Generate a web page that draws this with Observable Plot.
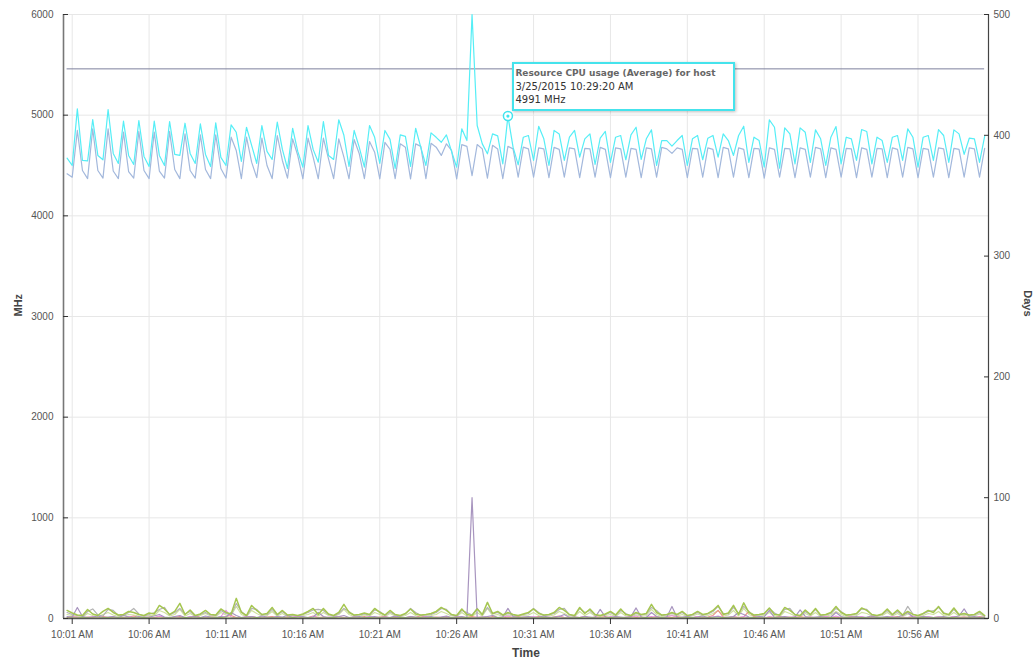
<!DOCTYPE html>
<html><head><meta charset="utf-8">
<script src="https://cdn.jsdelivr.net/npm/d3@7"></script>
<script src="https://cdn.jsdelivr.net/npm/@observablehq/plot@0.6"></script>
<style>
html,body{margin:0;padding:0;background:#fff;}
#wrap{position:relative;width:1034px;height:662px;overflow:hidden;}
#tip{position:absolute;box-sizing:border-box;width:223px;height:49px;background:#fff;border:2px solid #45e3ec;box-shadow:1px 1px 3px rgba(0,0,0,0.25);font-family:"DejaVu Sans",Verdana,sans-serif;padding:3px 0 0 1px;line-height:13px;}
#tip .t{font-size:9px;font-weight:bold;color:#666;}
#tip .l{font-size:10px;color:#333;}
</style></head><body><div id="wrap"></div>
<script>
// ---- data (20-second samples from 10:00:40 to 11:00:20) ----
const startTime = "2015-03-25 10:00:40";
const stepSeconds = 20;
const xTickLabels = ["10:01 AM","10:06 AM","10:11 AM","10:16 AM","10:21 AM","10:26 AM","10:31 AM","10:36 AM","10:41 AM","10:46 AM","10:51 AM","10:56 AM"];
const mhzTicks = [0,1000,2000,3000,4000,5000,6000];
const dayTicks = [0,100,200,300,400,500];
const capacityMHz = 5460;
const tooltipTitle = "Resource CPU usage (Average) for host";
const tooltipTime = "3/25/2015 10:29:20 AM";
const tooltipValue = 4991;

const cpuCyan = [
4573,
4500,5063,4550, 4545,4957,4600, 4557,5056,4620, 4520,4940,4600, 4510,4947,4590,
4490,4940,4600, 4500,4937,4610, 4600,4920,4620, 4520,4914,4610, 4490,4924,4580,
4500,4904,4830, 4540,4880,4700, 4520,4897,4640, 4560,4930,4660, 4470,4870,4640,
4483,4897,4660, 4533,4937,4600, 4560,4954,4800, 4490,4848,4680, 4483,4897,4780,
4520,4848,4760, 4470,4804,4790, 4490,4870,4680, 4500,4824,4780, 4731,4804,4640,
4483,4864,4748, 6000,4897,4715, 4616,4814,4794, 4516,4991,4682, 4507,4781,4798,
4550,4890,4765, 4500,4848,4814, 4550,4781,4848, 4583,4765,4814, 4510,4771,4838,
4530,4781,4798, 4557,4804,4880, 4560,4765,4854, 4500,4748,4748, 4692,4748,4798,
4500,4765,4798, 4557,4771,4798, 4583,4814,4748, 4600,4798,4890, 4530,4781,4748,
4483,4954,4880, 4473,4874,4814, 4516,4874,4830, 4530,4854,4765, 4500,4781,4887,
4516,4781,4765, 4550,4857,4838, 4516,4781,4748, 4530,4781,4798, 4550,4864,4781,
4483,4781,4798, 4550,4857,4798, 4530,4854,4814, 4610,4771,4765, 4530,4790
];
const cpuBlue = [
4417,
4384,4848,4450, 4370,4864,4450, 4375,4864,4445, 4370,4831,4440, 4375,4838,4450,
4370,4831,4445, 4375,4838,4460, 4370,4814,4450, 4375,4804,4460, 4370,4804,4470,
4375,4781,4649, 4370,4781,4533, 4380,4771,4500, 4370,4798,4550, 4375,4765,4599,
4368,4771,4583, 4368,4771,4566, 4370,4765,4583, 4368,4758,4616, 4370,4738,4632,
4368,4730,4660, 4370,4715,4682, 4368,4715,4690, 4370,4720,4682, 4600,4715,4650,
4368,4708,4690, 4400,4708,4665, 4375,4700,4665, 4370,4690,4665, 4384,4682,4665,
4384,4675,4665, 4380,4680,4660, 4384,4675,4665, 4380,4670,4665, 4384,4680,4660,
4380,4675,4665, 4384,4670,4660, 4380,4675,4665, 4384,4680,4665, 4620,4675,4660,
4380,4670,4665, 4384,4675,4660, 4380,4680,4665, 4384,4675,4660, 4380,4670,4665,
4375,4675,4660, 4384,4670,4665, 4380,4675,4660, 4384,4680,4665, 4380,4675,4660,
4384,4670,4665, 4380,4675,4660, 4384,4670,4665, 4380,4675,4660, 4384,4680,4665,
4380,4670,4660, 4384,4675,4665, 4380,4670,4660, 4384,4675,4665, 4384,4670
];
const vmGreen = [
80,55,35,30,90,45,30,70,100,60, 35,40,70,60,40,30,55,45,130,95,
40,70,150,40,85,30,45,80,40,35, 95,60,45,200,60,30,130,80,40,50,
110,40,80,35,40,30,45,70,100,40, 100,45,30,60,140,60,35,40,55,40,
100,60,35,80,40,30,50,95,45,35, 40,50,70,110,80,40,30,95,40,30,
95,40,160,50,70,35,60,40,30,45, 60,95,50,35,40,60,110,80,40,30,
110,50,95,40,30,45,70,35,95,40, 30,60,40,50,140,60,35,40,60,40,
70,30,40,70,40,50,80,130,40,55, 130,40,155,60,35,40,50,105,40,35,
110,80,40,30,85,40,100,35,40,60, 120,60,35,40,50,105,80,40,30,45,
95,40,85,35,70,40,30,50,80,60, 120,50,40,105,40,50,35,40,70,30
];
const vmGray = [
60,40,30,20,70,95,35,25,90,80, 30,30,60,100,45,25,40,60,90,110,
35,60,100,45,70,25,40,60,35,30, 80,50,35,150,70,25,100,90,35,40,
90,35,70,30,35,25,40,60,85,90, 80,40,25,50,100,70,30,35,45,35,
85,70,30,65,35,25,45,100,60,30, 35,40,60,100,90,35,25,80,60,35,
100,35,110,45,60,30,50,35,25,40, 50,100,60,30,35,50,90,100,35,25,
100,60,80,35,25,40,60,30,80,50, 25,50,35,45,110,80,30,35,50,35,
60,25,35,60,35,45,70,120,50,45, 110,50,120,70,30,35,45,100,55,30,
90,100,35,25,70,35,90,30,35,50, 100,70,30,35,45,95,90,35,25,40,
80,35,70,30,120,45,25,45,70,75, 110,60,35,90,35,45,30,35,60,25
];
const vmLightGreen = [
40,30,20,15,50,30,20,40,60,35, 20,25,40,35,25,20,30,30,80,60,
25,40,90,25,50,20,30,50,25,20, 60,35,30,120,40,20,80,50,25,30,
70,25,50,20,25,20,30,40,60,25, 60,30,20,40,90,40,20,25,35,25,
60,40,20,50,25,20,30,60,30,20, 25,30,40,70,50,25,20,60,25,20,
60,25,100,30,40,20,35,25,20,30, 35,60,30,20,25,35,70,50,25,20,
70,30,60,25,20,30,40,20,60,25, 20,35,25,30,90,40,20,25,35,25,
40,20,25,45,25,30,50,80,25,35, 80,25,100,40,20,25,30,60,25,20,
70,50,25,20,50,25,60,20,25,35, 70,40,20,25,30,60,50,25,20,30,
60,25,50,20,45,25,20,30,50,40, 70,30,25,60,25,30,20,25,45,20
];
const vmPurple = [
20,15,110,20,10,15,25,10,15,20, 10,30,15,10,20,10,15,25,40,15,
10,20,30,10,15,20,10,25,15,10, 20,15,60,30,10,15,20,10,25,15,
10,20,15,30,10,15,20,10,15,60, 20,10,15,20,30,10,15,20,10,15,
20,10,15,10,25,15,10,20,15,10, 15,20,10,15,25,10,15,20,10,1200,
10,15,20,30,10,15,100,20,10,15, 20,10,15,25,10,15,20,40,10,15,
10,20,15,10,90,15,10,20,15,10, 20,105,15,10,60,20,10,15,120,10,
15,20,10,15,25,10,15,20,10,15, 20,60,40,15,10,20,15,80,10,15,
20,10,15,85,20,10,15,20,10,15, 60,20,10,15,20,10,15,25,10,15,
20,10,15,30,60,15,10,20,15,10, 15,20,10,15,25,95,15,20,10,15
];
const vmPink = [
5,10,15,5,10,20,8,5,10,15, 5,8,20,10,5,15,10,5,25,10,
8,15,10,5,20,10,5,15,10,5, 20,80,15,5,10,20,8,5,15,10,
5,20,10,5,15,25,10,5,20,10, 5,15,10,20,5,10,15,5,10,20,
10,5,15,10,20,5,10,15,5,10, 20,10,5,15,10,5,20,10,5,10,
15,10,20,5,10,15,25,10,5,15, 10,20,5,10,15,5,20,10,15,5,
10,20,5,15,10,5,20,10,5,15, 10,25,5,15,20,10,5,15,30,10,
5,15,10,20,5,10,15,25,10,5, 15,10,20,5,10,15,5,20,10,5,
15,10,20,5,10,15,10,5,20,10, 25,10,5,15,10,20,5,10,15,5,
10,20,5,15,10,25,5,10,20,10, 15,5,10,20,10,15,5,10,15,5
];
const vmSalmon = [
10,20,10,5,15,10,5,20,10,15, 5,10,15,25,10,5,15,10,20,10,
5,15,20,10,5,30,10,5,15,10, 10,20,30,10,5,15,20,10,5,15,
20,10,5,15,10,20,5,10,25,10, 15,5,10,20,10,5,15,10,20,5,
10,15,20,5,10,15,5,20,10,30, 10,5,15,10,20,5,10,15,10,20,
10,15,5,20,10,5,15,10,20,5, 15,10,20,10,5,15,25,10,5,15,
10,20,5,15,10,20,5,15,10,5, 20,10,15,5,10,20,5,15,10,20,
10,15,5,20,10,15,30,80,15,10, 20,10,15,70,20,10,5,15,10,20,
10,15,5,20,10,15,5,10,20,10, 15,5,10,20,10,15,5,20,10,5,
15,10,20,5,10,15,10,20,5,10, 15,10,5,20,10,15,10,5,20,10
];
const vmBase = [
3,2,3,4,2,3,3,2,4,3, 2,3,3,2,3,4,2,3,3,2, 3,3,2,4,3,2,3,3,2,3,
4,2,3,3,2,3,3,4,2,3, 3,2,3,3,4,2,3,2,3,3, 2,3,4,3,2,3,3,2,3,4,
3,2,3,3,2,4,3,3,2,3, 3,4,2,3,3,2,3,3,4,2, 3,3,2,3,4,2,3,3,2,3,
2,3,3,4,2,3,3,2,3,3, 4,2,3,3,2,3,4,3,2,3, 3,2,3,4,3,2,3,3,2,3,
3,4,2,3,3,2,3,3,4,2, 3,3,2,3,4,3,2,3,3,2, 3,2,4,3,3,2,3,3,2,4,
2,3,3,2,3,4,3,2,3,3, 4,2,3,3,2,3,3,4,2,3, 3,2,3,4,2,3,3,2,3,3
];

// ---- build ----
const parse = d3.utcParse("%Y-%m-%d %H:%M:%S");
const parseTick = d3.utcParse("%Y-%m-%d %I:%M %p");
const t0 = parse(startTime);
const timeAt = i => new Date(+t0 + i * stepSeconds * 1000);
const tickDates = xTickLabels.map(l => parseTick("2015-03-25 " + l));
const fmt = d3.utcFormat("%-I:%M %p");
const xDomain = [parse("2015-03-25 10:00:26"), parse("2015-03-25 11:00:35")];
const tipDate = d3.utcParse("%-m/%-d/%Y %-I:%M:%S %p")(tooltipTime);

const series = [
  {values: vmLightGreen, color: "#cfe19e", w: 1.2},
  {values: vmSalmon, color: "#ec8f86", w: 1.1},
  {values: vmPink, color: "#e691e0", w: 1.1},
  {values: vmGray, color: "#b3b3b3", w: 1.2},
  {values: vmPurple, color: "#a895bf", w: 1.2},
  {values: vmGreen, color: "#a5c650", w: 1.5},
  {values: vmBase, color: "#86c43e", w: 1.5},
  {values: cpuBlue, color: "#a3b8dc", w: 1.2},
  {values: cpuCyan, color: "#55eef6", w: 1.2}
];
const lineMarks = series.map(s =>
  Plot.line(s.values.map((v, i) => ({t: timeAt(i), v})), {x: "t", y: "v", stroke: s.color, strokeWidth: s.w})
);
const lastT = timeAt(cpuCyan.length - 1);

const chart = Plot.plot({
  width: 1034, height: 662,
  marginLeft: 63, marginRight: 46, marginTop: 14, marginBottom: 44,
  style: {fontFamily: "'Liberation Sans', Arial, sans-serif", fontSize: "10px", background: "#fff", color: "#555", overflow: "visible"},
  x: {type: "utc", domain: xDomain},
  y: {domain: [0, 6000]},
  marks: [
    Plot.gridY(mhzTicks, {stroke: "#e7e7e7", strokeOpacity: 1}),
    Plot.gridX(tickDates, {stroke: "#e7e7e7", strokeOpacity: 1}),
    Plot.ruleY([capacityMHz], {x1: timeAt(0), x2: lastT, stroke: "#7d819d", strokeWidth: 1}),
    ...lineMarks,
    Plot.dot([{t: tipDate, v: tooltipValue}], {x: "t", y: "v", r: 4.5, stroke: "#3fe4ee", strokeWidth: 1.5, fill: "#fff"}),
    Plot.dot([{t: tipDate, v: tooltipValue}], {x: "t", y: "v", r: 1.6, fill: "#3fe4ee"}),
    Plot.ruleX([xDomain[0]], {stroke: "#777", strokeWidth: 1.6}),
    Plot.ruleX([xDomain[1]], {stroke: "#444", strokeWidth: 1.2}),
    Plot.ruleY([0], {stroke: "#555", strokeWidth: 1.6}),
    Plot.axisX(tickDates, {tickSize: 6, stroke: "#333", fill: null, label: null}),
    Plot.axisX(tickDates, {tickSize: 0, tickPadding: 12, tickFormat: fmt, fill: "#555", label: null}),
    Plot.axisY(mhzTicks, {anchor: "left", tickSize: 5, dx: 5, stroke: "#333", fill: null, label: null}),
    Plot.axisY(mhzTicks, {anchor: "left", tickSize: 0, tickPadding: 10, tickFormat: d => String(d), fill: "#555", label: null}),
    Plot.axisY(dayTicks.map(d => d * 12), {anchor: "right", tickSize: 5, dx: -5, stroke: "#333", fill: null, label: null}),
    Plot.axisY(dayTicks.map(d => d * 12), {anchor: "right", tickSize: 0, tickPadding: 5, tickFormat: d => String(d / 12), fill: "#555", label: null}),
    Plot.text(["Time"], {text: d => d, frameAnchor: "bottom", dy: 38, fontWeight: "bold", fontSize: 12, fill: "#444"}),
    Plot.text(["MHz"], {text: d => d, frameAnchor: "left", dx: -45, rotate: -90, fontWeight: "bold", fontSize: 11, fill: "#444"}),
    Plot.text(["Days"], {text: d => d, frameAnchor: "right", dx: 39, rotate: 90, fontWeight: "bold", fontSize: 11, fill: "#444"})
  ]
});
const wrap = document.getElementById("wrap");
wrap.appendChild(chart);

const px = chart.scale("x").apply(tipDate);
const py = chart.scale("y").apply(tooltipValue);
const tip = document.createElement("div");
tip.id = "tip";
tip.style.left = (px + 5) + "px";
tip.style.top = (py - 54) + "px";
tip.innerHTML = `<div class="t"></div><div class="l d"></div><div class="l v"></div>`;
tip.querySelector(".t").textContent = tooltipTitle;
tip.querySelector(".d").textContent = tooltipTime;
tip.querySelector(".v").textContent = tooltipValue + " MHz";
wrap.appendChild(tip);
</script></body></html>
